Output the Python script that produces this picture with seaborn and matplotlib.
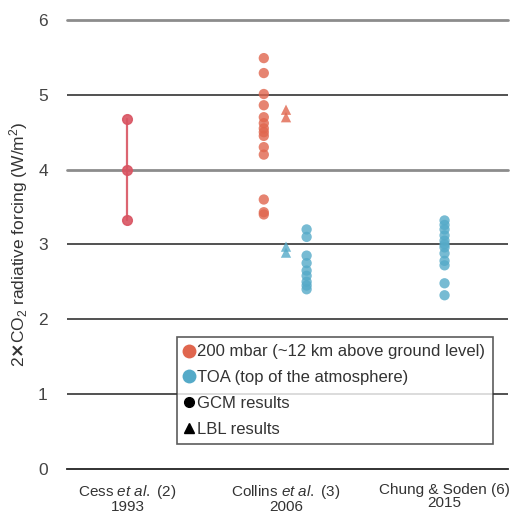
import numpy as np
import pandas as pd
import matplotlib
matplotlib.use("Agg")
import matplotlib.pyplot as plt
from matplotlib.lines import Line2D
import seaborn as sns

# --- data ---
studies = ["Cess et al. (2)\n1993", "Collins et al. (3)\n2006", "Chung & Soden (6)\n2015"]
cess_200 = [4.68, 4.00, 3.32]
collins_200_gcm = [5.49, 5.29, 5.01, 4.86, 4.70, 4.62, 4.55, 4.50, 4.45,
                   4.30, 4.20, 3.60, 3.43, 3.40]
collins_200_lbl = [4.80, 4.70]
collins_toa_lbl = [2.97, 2.89]
collins_toa_gcm = [3.20, 3.10, 2.85, 2.75, 2.65, 2.58, 2.50, 2.45, 2.40]
chung_toa_gcm = [3.32, 3.26, 3.20, 3.12, 3.05, 3.00, 2.96, 2.88, 2.78,
                 2.72, 2.48, 2.32]

RED = "#e0664e"
CESS_RED = "#d95462"
BLUE = "#55aac8"

sns.set_style("white")
plt.rcParams["font.family"] = ["Liberation Sans", "DejaVu Sans"]
plt.rcParams["mathtext.fontset"] = "custom"
plt.rcParams["mathtext.rm"] = "Liberation Sans"
plt.rcParams["mathtext.it"] = "Liberation Sans:italic"
plt.rcParams["mathtext.bf"] = "DejaVu Sans:bold"

# long table: study index + small horizontal offset per group
rows = []
for v in collins_200_gcm:
    rows.append(("200", "GCM", 1 - 0.14, v))
for v in collins_200_lbl:
    rows.append(("200", "LBL", 1.0, v))
for v in collins_toa_lbl:
    rows.append(("TOA", "LBL", 1.0, v))
for v in collins_toa_gcm:
    rows.append(("TOA", "GCM", 1 + 0.13, v))
for v in chung_toa_gcm:
    rows.append(("TOA", "GCM", 2.0, v))
df = pd.DataFrame(rows, columns=["level", "model", "x", "forcing"])

fig = plt.figure(figsize=(5.21, 5.25), dpi=100)
ax = fig.add_axes([0.129, 0.107, 0.846, 0.855])

# horizontal reference lines
for yv in [1, 2, 3, 5]:
    ax.axhline(yv, color="#222222", lw=1.1, zorder=0)
for yv in [4, 6]:
    ax.axhline(yv, color="#8c8c8c", lw=2.0, zorder=0, clip_on=False)

# Cess et al. range
ax.plot([0, 0, 0], cess_200, color=CESS_RED, lw=1.6, marker="o", ms=7,
        alpha=0.9, zorder=3)

sns.scatterplot(data=df, x="x", y="forcing", hue="level", style="model",
                palette={"200": RED, "TOA": BLUE}, markers={"GCM": "o", "LBL": "^"},
                s=55, alpha=0.8, edgecolor="none", legend=False, ax=ax, zorder=3)

ax.set_xlim(-0.38, 2.40)
ax.set_ylim(0, 6)
ax.set_xticks([0, 1, 2])
ax.set_xticklabels([r"Cess $\it{et\ al.}$ ($\it{2}$)" + "\n1993",
                    r"Collins $\it{et\ al.}$ ($\it{3}$)" + "\n2006",
                    "Chung & Soden (6)\n2015"], fontsize=11, color="#333333",
                   linespacing=0.95)
ax.set_yticks(range(0, 7))
ax.tick_params(axis="y", length=0, labelsize=12.5, labelcolor="#444444", pad=14)
ax.tick_params(axis="x", length=6, width=1.3, color="#222222", pad=4)
ax.set_xlabel("")
ax.set_ylabel(r"2$\mathbf{\times}$CO$_2$ radiative forcing (W/m$^2$)",
              fontsize=12.5, color="#333333", labelpad=6)
for s in ["top", "right", "left"]:
    ax.spines[s].set_visible(False)
ax.spines["bottom"].set_color("#222222")
ax.spines["bottom"].set_linewidth(1.3)

handles = [
    Line2D([], [], ls="", marker="o", ms=10, color=RED, mec="none"),
    Line2D([], [], ls="", marker="o", ms=10, color=BLUE, mec="none"),
    Line2D([], [], ls="", marker="o", ms=7, color="black"),
    Line2D([], [], ls="", marker="^", ms=7, color="black"),
]
labels = ["200 mbar (~12 km above ground level)", "TOA (top of the atmosphere)",
          "GCM results", "LBL results"]
leg = ax.legend(handles, labels, loc="upper right", bbox_to_anchor=(0.966, 0.294),
                fontsize=12, frameon=True, fancybox=False, handlelength=0.6,
                handletextpad=0.2, borderpad=0.45, labelspacing=0.65,
                borderaxespad=0)
leg.get_frame().set_edgecolor("#333333")
leg.get_frame().set_linewidth(1.2)
for t in leg.get_texts():
    t.set_color("#333333")

fig.savefig("out.png", dpi=100)
